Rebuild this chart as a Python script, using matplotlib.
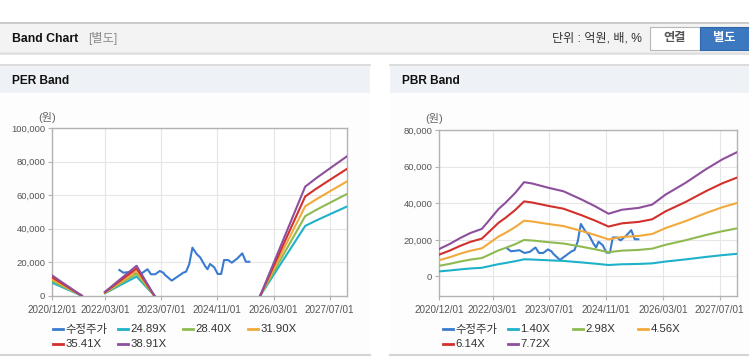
import numpy as np
import matplotlib
matplotlib.use("Agg")
import matplotlib.pyplot as plt
from matplotlib.patches import Rectangle
from matplotlib.lines import Line2D
from matplotlib.ticker import FuncFormatter

plt.rcParams['font.family'] = ['Liberation Sans', 'Noto Sans CJK KR', 'DejaVu Sans']

nan = np.nan
# x axis: months since 2020/12/01
tick_pos = [0, 15, 31, 47, 63, 79]
tick_labels = ["2020/12/01", "2022/03/01", "2023/07/01", "2024/11/01", "2026/03/01", "2027/07/01"]

# adjusted price (수정주가), shared by both charts
price_x = [19.1, 20.2, 21.4, 22.6, 24.0, 25.5, 27.1, 28.1, 29.3, 30.6, 31.6, 32.1, 34.0, 35.4,
           37.3, 38.1, 39.0, 39.9, 41.1, 42.1, 43.5, 44.2, 44.9, 46.1, 47.1, 48.1, 48.9, 50.1,
           51.1, 52.7, 54.1, 55.1, 56.1]
price = [15350, 13750, 14000, 14300, 12800, 13400, 15800, 12800, 12800, 14750, 13750, 12400, 9000, 11000,
         13750, 14350, 18950, 28700, 24900, 22900, 17750, 15800, 18950, 17000, 13000, 13000, 21300, 21300,
         19700, 22300, 25300, 20300, 20300]

# PER band
per_x = [0, 8.4, nan, 15, 24, 29.06, nan, 59.2, 72, 75, 79, 84]
per_labels = ["24.89X", "28.40X", "31.90X", "35.41X", "38.91X"]
per_2489 = [7680, 0, nan, 1470, 11450, 0, nan, 0, 41650, 44780, 48620, 53350]
per_2840 = [8760, 0, nan, 1680, 13070, 0, nan, 0, 47520, 51090, 55470, 60870]
per_3190 = [9840, 0, nan, 1890, 14680, 0, nan, 0, 53380, 57390, 62310, 68380]
per_3541 = [10920, 0, nan, 2090, 16290, 0, nan, 0, 59240, 63700, 69160, 75890]
per_3891 = [12000, 0, nan, 2300, 17900, 0, nan, 0, 65100, 70000, 76000, 83400]

# PBR band
pbr_x = [0, 3.0, 5.8, 8.7, 12.0, 13.4, 16.7, 18.6, 21.4, 23.9, 26.1, 30.8, 35.0, 40.2,
         44.0, 47.7, 51.5, 56.2, 60.0, 63.8, 69.4, 75.1, 79.8, 84.0]
pbr_labels = ["1.40X", "2.98X", "4.56X", "6.14X", "7.72X"]
pbr_140 = [2720, 3230, 3790, 4300, 4710, 5290, 6690, 7290, 8290, 9350, 9230, 8790, 8450, 7610,
           6940, 6220, 6620, 6800, 7120, 8120, 9280, 10620, 11620, 12350]
pbr_298 = [5790, 6870, 8070, 9150, 10040, 11270, 14240, 15520, 17640, 19920, 19650, 18720, 17990, 16210,
           14780, 13240, 14090, 14480, 15170, 17290, 19760, 22620, 24740, 26290]
pbr_456 = [8860, 10510, 12350, 14000, 15360, 17250, 21800, 23750, 27000, 30480, 30070, 28650, 27530, 24810,
           22620, 20260, 21560, 22150, 23210, 26460, 30240, 34620, 37860, 40230]
pbr_614 = [11930, 14160, 16620, 18850, 20680, 23220, 29350, 31970, 36350, 41040, 40480, 38570, 37060, 33400,
           30460, 27280, 29030, 29820, 31250, 35630, 40720, 46600, 50980, 54160]
pbr_772 = [15000, 17800, 20900, 23700, 26000, 29200, 36900, 40200, 45700, 51600, 50900, 48500, 46600, 42000,
           38300, 34300, 36500, 37500, 39300, 44800, 51200, 58600, 64100, 68100]

price_label = "수정주가"
colors = ["#3a7bd0", "#1fb1c9", "#8fba52", "#f2a93b", "#d2302c", "#8e4f9d"]

W, H = 749, 364
fig = plt.figure(figsize=(W / 100, H / 100), dpi=100)
fig.patch.set_facecolor("white")


def fx(x):
    return x / W


def fy(y):
    return 1 - y / H


def rect(x0, y0, x1, y1, fc, ec="none", lw=0, z=0):
    r = Rectangle((fx(x0), fy(y1)), fx(x1) - fx(x0), fy(y0) - fy(y1), transform=fig.transFigure,
                  facecolor=fc, edgecolor=ec, linewidth=lw, zorder=z)
    fig.add_artist(r)


def hline(x0, x1, y, c, lw=1.0, z=1):
    fig.add_artist(Line2D([fx(x0), fx(x1)], [fy(y), fy(y)], transform=fig.transFigure, color=c, lw=lw, zorder=z))


# header bar
rect(0, 22.5, W, 52.7, "#f3f3f3")
hline(0, W, 22.5, "#c4c4c4", 1.2)
hline(0, W, 52.8, "#bdbdbd", 1.0)
hline(0, W, 54.0, "#e4e4e4", 1.2)
fig.text(fx(11.5), fy(38.5), "Band Chart", fontsize=8.8, fontweight="bold", color="#111", va="center", ha="left")
fig.text(fx(88), fy(38.5), "[별도]", fontsize=8.8, color="#8a8a8a", va="center", ha="left")
fig.text(fx(642), fy(38.5), "단위 : 억원, 배, %", fontsize=8.7, color="#333", va="center", ha="right")
rect(649.5, 27.5, 700, 49.5, "white", "#b8b8b8", 0.8, z=2)
fig.text(fx(674.7), fy(38.5), "연결", fontsize=8.8, fontweight="bold", color="#555", va="center", ha="center", zorder=3)
rect(700, 27.5, 749, 49.5, "#3b78bf", "#2f67a8", 0.8, z=2)
fig.text(fx(724.5), fy(38.5), "별도", fontsize=8.8, fontweight="bold", color="white", va="center", ha="center", zorder=3)

# panels
for (x0, x1, title) in [(0, 370, "PER Band"), (390, W, "PBR Band")]:
    rect(x0, 93, x1, 354, "#fdfdfd")
    rect(x0, 64.5, x1, 93, "#eef2f7")
    hline(x0, x1, 64.5, "#d6d6d6", 1.2)
    hline(x0, x1, 354.5, "#d4d4d4", 1.5)
    fig.text(fx(x0 + 11.5), fy(80.5), title, fontsize=8.6, fontweight="bold", color="#111", va="center", ha="left")

fmt = FuncFormatter(lambda v, p: f"{int(v):,}")


def setup_axes(ax, ylim, yticks):
    ax.set_facecolor("white")
    ax.set_xlim(0, 84)
    ax.set_ylim(*ylim)
    ax.set_xticks(tick_pos)
    ax.set_xticklabels(tick_labels)
    ax.set_yticks(yticks)
    ax.yaxis.set_major_formatter(fmt)
    ax.grid(True, color="#e6e6e6", lw=0.8)
    ax.set_axisbelow(True)
    for s in ax.spines.values():
        s.set_color("#b3b3b3")
        s.set_linewidth(1.0)
    ax.tick_params(axis="both", labelsize=6.8, colors="#b3b3b3", labelcolor="#555", length=3, width=0.8, pad=2)
    ax.tick_params(axis="x", labelsize=7.1, pad=4)


# PER axes
ax1 = fig.add_axes([fx(52.3), fy(295.7), fx(347.3) - fx(52.3), fy(128.3) - fy(295.7)])
setup_axes(ax1, (0, 100000), [0, 20000, 40000, 60000, 80000, 100000])
ax1.plot(price_x, price, color=colors[0], lw=1.5, zorder=3)
for c, ys in zip(colors[1:], [per_2489, per_2840, per_3190, per_3541, per_3891]):
    ax1.plot(per_x, ys, color=c, lw=1.5, zorder=4)

# PBR axes
ax2 = fig.add_axes([fx(439.3), fy(295.7), fx(737.3) - fx(439.3), fy(130.3) - fy(295.7)])
setup_axes(ax2, (-10600, 80000), [0, 20000, 40000, 60000, 80000])
ax2.plot(price_x, price, color=colors[0], lw=1.5, zorder=3)
for c, ys in zip(colors[1:], [pbr_140, pbr_298, pbr_456, pbr_614, pbr_772]):
    ax2.plot(pbr_x, ys, color=c, lw=1.5, zorder=4)

# unit labels
fig.text(fx(47.5), fy(118), "(원)", fontsize=8, color="#666", ha="center", va="center")
fig.text(fx(434), fy(118.5), "(원)", fontsize=8, color="#666", ha="center", va="center")


# legends
def legend(x_start, labels):
    names = [price_label] + labels
    for i, (nm, c) in enumerate(zip(names, colors)):
        row, col = divmod(i, 4)
        x = x_start + col * 65
        y = 329 + row * 15.3
        fig.add_artist(Line2D([fx(x), fx(x + 10)], [fy(y), fy(y)], transform=fig.transFigure, color=c, lw=2.0))
        fig.text(fx(x + 12.5), fy(y), nm, fontsize=8.2, color="#333", ha="left", va="center")


legend(53, per_labels)
legend(443, pbr_labels)

fig.savefig("out.png", dpi=100)
